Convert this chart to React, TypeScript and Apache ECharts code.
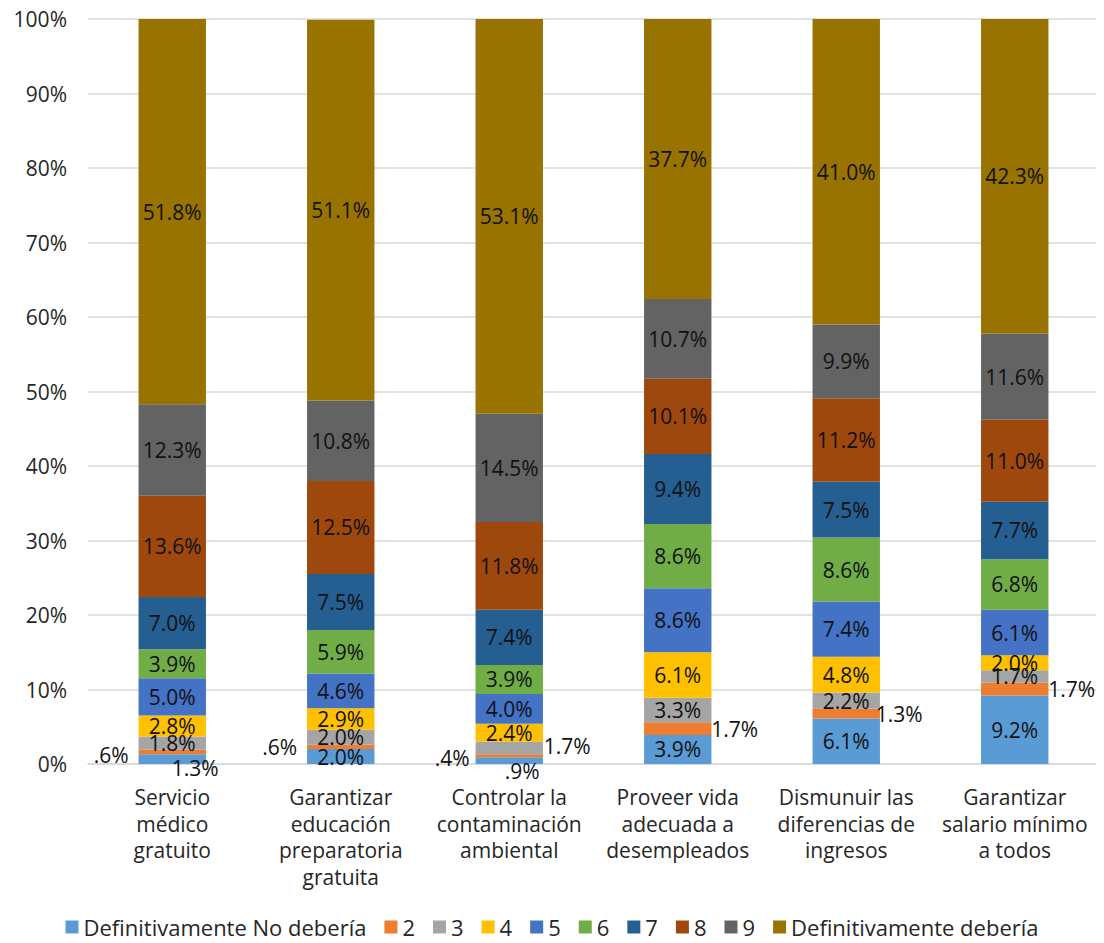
import React, { useEffect, useRef } from "react";
import * as echarts from "echarts";

const categories = [
  "Servicio\nmédico\ngratuito",
  "Garantizar\neducación\npreparatoria\ngratuita",
  "Controlar la\ncontaminación\nambiental",
  "Proveer vida\nadecuada a\ndesempleados",
  "Dismunuir las\ndiferencias de\ningresos",
  "Garantizar\nsalario mínimo\na todos",
];

const seriesNames = [
  "Definitivamente No debería",
  "2",
  "3",
  "4",
  "5",
  "6",
  "7",
  "8",
  "9",
  "Definitivamente debería",
];

const colors = [
  "#5B9BD5",
  "#ED7D31",
  "#A5A5A5",
  "#FFC000",
  "#4472C4",
  "#70AD47",
  "#255E91",
  "#9E480E",
  "#636363",
  "#997300",
];

const s1 = [1.3, 2.0, 0.9, 3.9, 6.1, 9.2];
const s2 = [0.6, 0.6, 0.4, 1.7, 1.3, 1.7];
const s3 = [1.8, 2.0, 1.7, 3.3, 2.2, 1.7];
const s4 = [2.8, 2.9, 2.4, 6.1, 4.8, 2.0];
const s5 = [5.0, 4.6, 4.0, 8.6, 7.4, 6.1];
const s6 = [3.9, 5.9, 3.9, 8.6, 8.6, 6.8];
const s7 = [7.0, 7.5, 7.4, 9.4, 7.5, 7.7];
const s8 = [13.6, 12.5, 11.8, 10.1, 11.2, 11.0];
const s9 = [12.3, 10.8, 14.5, 10.7, 9.9, 11.6];
const s10 = [51.8, 51.1, 53.1, 37.7, 41.0, 42.3];

const allSeries = [s1, s2, s3, s4, s5, s6, s7, s8, s9, s10];

// label offsets for small segments: [seriesIndex, categoryIndex, dx, dy]
const labelOffsets: [number, number, number, number][] = [
  [0, 0, 23, 9],
  [1, 0, -61, 3],
  [1, 1, -61, 0],
  [0, 2, 13, 10],
  [1, 2, -57, 2],
  [2, 2, 58, -2],
  [1, 3, 57, 0],
  [1, 4, 53, 0],
  [1, 5, 57, 0],
];

const FONT = "'Open Sans', sans-serif";

function fmt(v: number): string {
  const s = v.toFixed(1);
  return (v < 1 ? s.replace(/^0/, "") : s) + "%";
}

export default function App() {
  const ref = useRef<HTMLDivElement>(null);
  useEffect(() => {
    if (!ref.current) return;
    const chart = echarts.init(ref.current, undefined, { renderer: "svg" });
    const series = allSeries.map((arr, si) => ({
      name: seriesNames[si],
      type: "bar",
      stack: "total",
      barWidth: "40%",
      itemStyle: { color: colors[si] },
      label: {
        show: true,
        position: "inside",
        color: "#111",
        fontSize: 21,
        fontFamily: FONT,
        formatter: (p: any) => fmt(p.value),
      },
      data: arr.map((v, ci) => {
        const o = labelOffsets.find((x) => x[0] === si && x[1] === ci);
        if (o) {
          return { value: v, label: { offset: [o[2], o[3]] } };
        }
        return v;
      }),
    }));
    chart.setOption({
      animation: false,
      textStyle: { fontFamily: FONT },
      grid: { left: 88, right: 5, top: 19, bottom: 179, containLabel: false },
      legend: {
        top: 911,
        left: "center",
        icon: "rect",
        itemWidth: 13,
        itemHeight: 13,
        itemGap: 18,
        textStyle: { fontSize: 22, color: "#262626", fontFamily: FONT },
        data: seriesNames,
      },
      xAxis: {
        type: "category",
        data: categories,
        axisLine: { lineStyle: { color: "#d9d9d9", width: 1.5 } },
        axisTick: { show: false },
        axisLabel: {
          fontSize: 21,
          color: "#262626",
          lineHeight: 26.5,
          margin: 20,
          interval: 0,
          fontFamily: FONT,
        },
      },
      yAxis: {
        type: "value",
        min: 0,
        max: 100,
        interval: 10,
        axisLine: { show: false },
        axisTick: { show: false },
        splitLine: { lineStyle: { color: "#d9d9d9", width: 1.5 } },
        axisLabel: {
          formatter: "{value}%",
          fontSize: 21,
          color: "#262626",
          margin: 21,
          fontFamily: FONT,
        },
      },
      series,
    });
    return () => chart.dispose();
  }, []);
  return (
    <div
      ref={ref}
      style={{ width: 1104, height: 943, margin: "-8px 0 0 -8px" }}
    />
  );
}
